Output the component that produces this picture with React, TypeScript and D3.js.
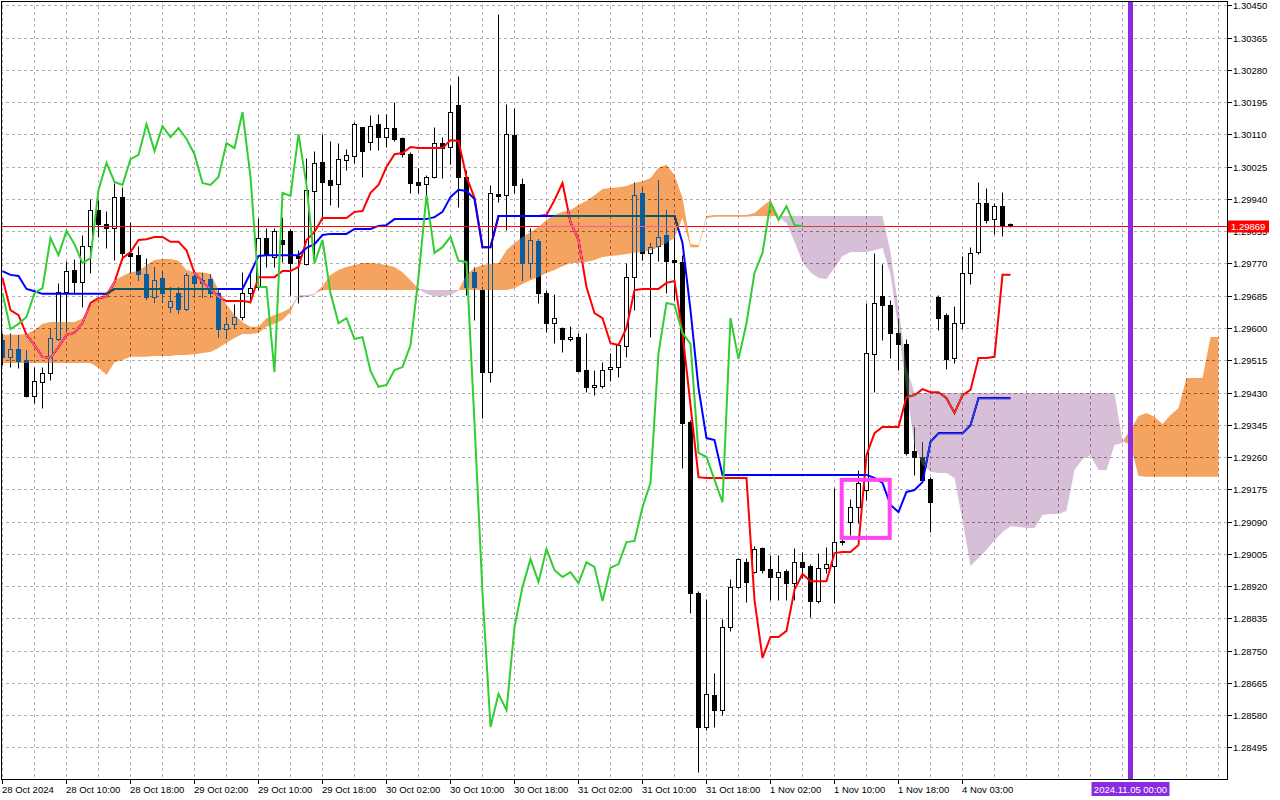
import * as d3 from "d3";

// H1 bars from 28 Oct 2024 02:00, one label every 8 bars
const timeLabels = [
  "28 Oct 2024", "28 Oct 10:00", "28 Oct 18:00", "29 Oct 02:00", "29 Oct 10:00", "29 Oct 18:00",
  "30 Oct 02:00", "30 Oct 10:00", "30 Oct 18:00", "31 Oct 02:00", "31 Oct 10:00", "31 Oct 18:00",
  "1 Nov 02:00", "1 Nov 10:00", "1 Nov 18:00", "4 Nov 03:00",
];

const priceLabels = [
  "1.30450", "1.30365", "1.30280", "1.30195", "1.30110", "1.30025", "1.29940", "1.29855",
  "1.29770", "1.29685", "1.29600", "1.29515", "1.29430", "1.29345", "1.29260", "1.29175",
  "1.29090", "1.29005", "1.28920", "1.28835", "1.28750", "1.28665", "1.28580", "1.28495",
];

const opens = [
  1.29568, 1.29524, 1.29545, 1.29516, 1.29421, 1.29458, 1.29481, 1.29571, 1.29695, 1.29753,
  1.29721, 1.29816, 1.29911, 1.29874, 1.29863, 1.29945, 1.29798, 1.29792, 1.29742, 1.29682,
  1.29732, 1.29655, 1.29692, 1.29650, 1.29737, 1.29718, 1.29729, 1.29692, 1.29597, 1.29611,
  1.29629, 1.29692, 1.29708, 1.29837, 1.29787, 1.29832, 1.29856, 1.29790, 1.29769, 1.29961,
  1.30037, 1.29990, 1.29979, 1.30043, 1.30053, 1.30130, 1.30090, 1.30137, 1.30103, 1.30127,
  1.30101, 1.30058, 1.29985, 1.29979, 1.29998, 1.30087, 1.30077, 1.30188, 1.29998, 1.29748,
  1.29700, 1.29484, 1.29953, 1.29950, 1.30109, 1.29979, 1.29771, 1.29829, 1.29692, 1.29613,
  1.29600, 1.29571, 1.29576, 1.29489, 1.29445, 1.29447, 1.29492, 1.29497, 1.29553, 1.29734,
  1.29956, 1.29798, 1.29816, 1.29845, 1.29779, 1.29774, 1.29352, 1.28902, 1.28549, 1.28633,
  1.28593, 1.28812, 1.28918, 1.28983, 1.28957, 1.29020, 1.28965, 1.28944, 1.28960, 1.28928,
  1.28983, 1.28973, 1.28881, 1.28968, 1.28973, 1.29036, 1.29089, 1.29128, 1.29173, 1.29531,
  1.29684, 1.29661, 1.29587, 1.29558, 1.29276, 1.29260, 1.29202, 1.29682, 1.29634, 1.29521,
  1.29613, 1.29745, 1.29800, 1.29929, 1.29887, 1.29921, 1.29874,
];

const highs = [
  1.29587, 1.29587, 1.29582, 1.29542, 1.29497, 1.29497, 1.29597, 1.29718, 1.29777, 1.29782,
  1.29845, 1.29940, 1.29937, 1.29908, 1.29982, 1.29972, 1.29879, 1.29816, 1.29784, 1.29761,
  1.29747, 1.29708, 1.29708, 1.29745, 1.29753, 1.29745, 1.29742, 1.29700, 1.29629, 1.29663,
  1.29747, 1.29745, 1.29890, 1.29863, 1.29863, 1.29892, 1.29861, 1.29805, 1.30048, 1.30066,
  1.30111, 1.30093, 1.30087, 1.30072, 1.30143, 1.30130, 1.30161, 1.30164, 1.30164, 1.30195,
  1.30103, 1.30064, 1.30022, 1.30003, 1.30130, 1.30103, 1.30240, 1.30264, 1.30016, 1.29761,
  1.29708, 1.29977, 1.30427, 1.30190, 1.30180, 1.29995, 1.29863, 1.29834, 1.29700, 1.29690,
  1.29603, 1.29605, 1.29587, 1.29587, 1.29489, 1.29510, 1.29534, 1.29560, 1.29771, 1.29985,
  1.29969, 1.29824, 1.29990, 1.29911, 1.29863, 1.29792, 1.29358, 1.28907, 1.28886, 1.28691,
  1.28833, 1.28939, 1.28994, 1.28994, 1.29026, 1.29023, 1.29002, 1.29002, 1.28965, 1.29020,
  1.29010, 1.28978, 1.29007, 1.29023, 1.29178, 1.29047, 1.29149, 1.29226, 1.29666, 1.29798,
  1.29769, 1.29674, 1.29624, 1.29571, 1.29339, 1.29300, 1.29207, 1.29687, 1.29640, 1.29658,
  1.29790, 1.29813, 1.29985, 1.29969, 1.29929, 1.29958, 1.29877,
];

const lows = [
  1.29503, 1.29497, 1.29495, 1.29418, 1.29402, 1.29389, 1.29463, 1.29568, 1.29595, 1.29690,
  1.29655, 1.29745, 1.29840, 1.29811, 1.29779, 1.29779, 1.29745, 1.29726, 1.29676, 1.29668,
  1.29668, 1.29642, 1.29639, 1.29647, 1.29682, 1.29682, 1.29682, 1.29576, 1.29574, 1.29600,
  1.29621, 1.29666, 1.29700, 1.29761, 1.29761, 1.29774, 1.29687, 1.29666, 1.29766, 1.29774,
  1.29885, 1.29924, 1.29919, 1.30016, 1.30035, 1.29998, 1.30069, 1.30069, 1.30077, 1.30093,
  1.30050, 1.29956, 1.29956, 1.29940, 1.29995, 1.29995, 1.30032, 1.29919, 1.29687, 1.29621,
  1.29363, 1.29458, 1.29932, 1.29858, 1.29956, 1.29726, 1.29734, 1.29666, 1.29589, 1.29560,
  1.29537, 1.29566, 1.29484, 1.29431, 1.29423, 1.29442, 1.29460, 1.29471, 1.29524, 1.29647,
  1.29779, 1.29576, 1.29777, 1.29692, 1.29674, 1.29231, 1.28849, 1.28430, 1.28541, 1.28549,
  1.28580, 1.28802, 1.28915, 1.28878, 1.28954, 1.28954, 1.28883, 1.28883, 1.28883, 1.28883,
  1.28941, 1.28839, 1.28875, 1.28954, 1.28875, 1.29028, 1.29055, 1.29086, 1.29147, 1.29431,
  1.29568, 1.29521, 1.29489, 1.29265, 1.29213, 1.29194, 1.29062, 1.29595, 1.29492, 1.29508,
  1.29597, 1.29716, 1.29795, 1.29877, 1.29848, 1.29842, 1.29866,
];

const closes = [
  1.29524, 1.29545, 1.29513, 1.29421, 1.29460, 1.29481, 1.29574, 1.29695, 1.29750, 1.29721,
  1.29816, 1.29911, 1.29874, 1.29863, 1.29945, 1.29798, 1.29790, 1.29742, 1.29682, 1.29726,
  1.29692, 1.29671, 1.29650, 1.29740, 1.29718, 1.29726, 1.29692, 1.29597, 1.29611, 1.29629,
  1.29692, 1.29705, 1.29837, 1.29792, 1.29856, 1.29821, 1.29771, 1.29784, 1.29964, 1.30035,
  1.29985, 1.29977, 1.30045, 1.30056, 1.30137, 1.30066, 1.30132, 1.30103, 1.30127, 1.30098,
  1.30058, 1.29982, 1.29977, 1.29998, 1.30087, 1.30074, 1.30169, 1.29998, 1.29708, 1.29708,
  1.29484, 1.29956, 1.29948, 1.30111, 1.29977, 1.29771, 1.29832, 1.29692, 1.29613, 1.29626,
  1.29571, 1.29576, 1.29487, 1.29445, 1.29450, 1.29489, 1.29497, 1.29555, 1.29734, 1.29950,
  1.29798, 1.29813, 1.29840, 1.29777, 1.29774, 1.29350, 1.28902, 1.28549, 1.28636, 1.28593,
  1.28812, 1.28918, 1.28991, 1.28931, 1.29018, 1.28962, 1.28944, 1.28957, 1.28928, 1.28983,
  1.28970, 1.28881, 1.28968, 1.28978, 1.29036, 1.29039, 1.29128, 1.29192, 1.29534, 1.29666,
  1.29661, 1.29587, 1.29558, 1.29271, 1.29260, 1.29200, 1.29141, 1.29626, 1.29518, 1.29613,
  1.29745, 1.29798, 1.29929, 1.29885, 1.29921, 1.29871, 1.29869,
];

const tenkan = [
  1.29732, 1.29647, 1.29634, 1.29582, 1.29555, 1.29524, 1.29521, 1.29550, 1.29582, 1.29587,
  1.29613, 1.29666, 1.29679, 1.29682, 1.29721, 1.29784, 1.29800, 1.29832, 1.29834, 1.29840,
  1.29840, 1.29827, 1.29827, 1.29805, 1.29745, 1.29721, 1.29703, 1.29682, 1.29671, 1.29671,
  1.29671, 1.29668, 1.29734, 1.29734, 1.29734, 1.29750, 1.29750, 1.29761, 1.29832, 1.29853,
  1.29890, 1.29890, 1.29890, 1.29890, 1.29906, 1.29908, 1.29956, 1.29977, 1.30024, 1.30058,
  1.30061, 1.30077, 1.30074, 1.30074, 1.30074, 1.30074, 1.30095, 1.30093, 1.29998, 1.29943,
  1.29813, 1.29813, 1.29895, 1.29895, 1.29895, 1.29895, 1.29895, 1.29895, 1.29898, 1.29937,
  1.29982, 1.29879, 1.29832, 1.29708, 1.29639, 1.29626, 1.29560, 1.29555, 1.29600, 1.29700,
  1.29703, 1.29703, 1.29703, 1.29719, 1.29724, 1.29587, 1.29397, 1.29207, 1.29205, 1.29205,
  1.29205, 1.29205, 1.29205, 1.29205, 1.28883, 1.28731, 1.28786, 1.28786, 1.28802, 1.28910,
  1.28952, 1.28933, 1.28933, 1.28933, 1.29007, 1.29010, 1.29010, 1.29028, 1.29265, 1.29323,
  1.29339, 1.29339, 1.29339, 1.29418, 1.29423, 1.29439, 1.29431, 1.29431, 1.29415, 1.29376,
  1.29423, 1.29437, 1.29521, 1.29521, 1.29524, 1.29740, 1.29740,
];

const kijun = [
  1.29750, 1.29740, 1.29737, 1.29703, 1.29697, 1.29690, 1.29690, 1.29690, 1.29690, 1.29690,
  1.29690, 1.29690, 1.29690, 1.29690, 1.29703, 1.29703, 1.29703, 1.29703, 1.29703, 1.29703,
  1.29703, 1.29703, 1.29703, 1.29703, 1.29703, 1.29703, 1.29703, 1.29703, 1.29703, 1.29703,
  1.29703, 1.29745, 1.29790, 1.29792, 1.29792, 1.29792, 1.29792, 1.29792, 1.29811, 1.29821,
  1.29845, 1.29848, 1.29848, 1.29848, 1.29861, 1.29861, 1.29861, 1.29869, 1.29871, 1.29887,
  1.29887, 1.29887, 1.29887, 1.29887, 1.29892, 1.29906, 1.29945, 1.29964, 1.29961, 1.29940,
  1.29813, 1.29813, 1.29895, 1.29895, 1.29895, 1.29895, 1.29895, 1.29895, 1.29895, 1.29895,
  1.29895, 1.29895, 1.29895, 1.29895, 1.29895, 1.29895, 1.29895, 1.29895, 1.29895, 1.29895,
  1.29895, 1.29895, 1.29895, 1.29895, 1.29895, 1.29824, 1.29647, 1.29442, 1.29310, 1.29305,
  1.29213, 1.29213, 1.29213, 1.29213, 1.29213, 1.29213, 1.29213, 1.29213, 1.29213, 1.29213,
  1.29213, 1.29213, 1.29213, 1.29213, 1.29213, 1.29213, 1.29213, 1.29213, 1.29213, 1.29205,
  1.29192, 1.29134, 1.29115, 1.29168, 1.29173, 1.29194, 1.29300, 1.29323, 1.29323, 1.29323,
  1.29323, 1.29344, 1.29415, 1.29415, 1.29415, 1.29415, 1.29415,
];

// Senkou spans, already shifted 26 bars ahead (153 bars)
const spanA = [
  1.29582, 1.29582, 1.29582, 1.29584, 1.29595, 1.29611, 1.29616, 1.29616, 1.29616, 1.29616,
  1.29626, 1.29661, 1.29679, 1.29695, 1.29726, 1.29737, 1.29747, 1.29750, 1.29766, 1.29779,
  1.29782, 1.29782, 1.29777, 1.29753, 1.29747, 1.29747, 1.29742, 1.29700, 1.29661, 1.29634,
  1.29616, 1.29603, 1.29603, 1.29626, 1.29634, 1.29642, 1.29653, 1.29679, 1.29682, 1.29687,
  1.29711, 1.29740, 1.29753, 1.29761, 1.29766, 1.29771, 1.29771, 1.29769, 1.29766, 1.29761,
  1.29747, 1.29726, 1.29703, 1.29690, 1.29684, 1.29684, 1.29687, 1.29698, 1.29740, 1.29758,
  1.29766, 1.29769, 1.29771, 1.29805, 1.29824, 1.29840, 1.29853, 1.29866, 1.29885, 1.29898,
  1.29906, 1.29911, 1.29924, 1.29935, 1.29950, 1.29966, 1.29969, 1.29971, 1.29974, 1.29982,
  1.29987, 1.29995, 1.30022, 1.30030, 1.30003, 1.29943, 1.29821, 1.29819, 1.29895, 1.29898,
  1.29898, 1.29898, 1.29898, 1.29898, 1.29903, 1.29921, 1.29937, 1.29893, 1.29877, 1.29827,
  1.29774, 1.29747, 1.29732, 1.29729, 1.29758, 1.29790, 1.29800, 1.29800, 1.29800, 1.29805,
  1.29811, 1.29740, 1.29595, 1.29437, 1.29292, 1.29239, 1.29221, 1.29218, 1.29218, 1.29205,
  1.29094, 1.28973, 1.28994, 1.29015, 1.29041, 1.29062, 1.29078, 1.29076, 1.29073, 1.29073,
  1.29107, 1.29110, 1.29110, 1.29118, 1.29226, 1.29255, 1.29265, 1.29226, 1.29226, 1.29292,
  1.29297, 1.29331, 1.29368, 1.29376, 1.29366, 1.29347, 1.29371, 1.29389, 1.29468, 1.29468,
  1.29468, 1.29576, 1.29576,
];

const spanB = [
  1.29508, 1.29508, 1.29508, 1.29508, 1.29508, 1.29508, 1.29508, 1.29508, 1.29508, 1.29508,
  1.29508, 1.29508, 1.29495, 1.29476, 1.29510, 1.29516, 1.29524, 1.29524, 1.29524, 1.29526,
  1.29526, 1.29526, 1.29529, 1.29529, 1.29531, 1.29534, 1.29537, 1.29547, 1.29561, 1.29574,
  1.29584, 1.29584, 1.29587, 1.29603, 1.29611, 1.29621, 1.29642, 1.29687, 1.29687, 1.29690,
  1.29700, 1.29700, 1.29700, 1.29700, 1.29700, 1.29700, 1.29700, 1.29700, 1.29700, 1.29700,
  1.29700, 1.29700, 1.29700, 1.29700, 1.29700, 1.29700, 1.29700, 1.29700, 1.29700, 1.29700,
  1.29700, 1.29700, 1.29700, 1.29700, 1.29705, 1.29716, 1.29726, 1.29734, 1.29745, 1.29753,
  1.29763, 1.29771, 1.29771, 1.29774, 1.29779, 1.29787, 1.29790, 1.29792, 1.29795, 1.29798,
  1.29800, 1.29805, 1.29813, 1.29824, 1.29837, 1.29890, 1.29813, 1.29813, 1.29890, 1.29893,
  1.29893, 1.29893, 1.29893, 1.29893, 1.29895, 1.29895, 1.29895, 1.29895, 1.29895, 1.29895,
  1.29895, 1.29895, 1.29895, 1.29895, 1.29895, 1.29895, 1.29895, 1.29895, 1.29895, 1.29895,
  1.29895, 1.29800, 1.29653, 1.29495, 1.29429, 1.29429, 1.29429, 1.29429, 1.29429, 1.29429,
  1.29429, 1.29429, 1.29429, 1.29429, 1.29429, 1.29429, 1.29429, 1.29429, 1.29429, 1.29429,
  1.29429, 1.29429, 1.29429, 1.29429, 1.29429, 1.29429, 1.29429, 1.29429, 1.29429, 1.29429,
  1.29302, 1.29292, 1.29210, 1.29208, 1.29208, 1.29208, 1.29208, 1.29208, 1.29208, 1.29208,
  1.29208, 1.29208, 1.29208,
];

const lastPrice = 1.29869;
const chikouShift = 26;
const dayLine = { bar: 141, label: "2024.11.05 00:00" };
const markBox = { from: 104.9, to: 110.9, low: 1.29047, high: 1.292 };

const FONT = "'Liberation Sans', Arial, sans-serif";

export default function App() {
  const width = 1280;
  const height = 800;
  const plotR = 1227; // price axis line
  const plotB = 779; // time axis line

  const x = d3.scaleLinear().domain([0, 152]).range([2.5, 1218.5]);
  const y = d3.scaleLinear().domain([1.28495, 1.3045]).range([747.4, 5.4]);
  const py = (v: number) => Math.round(y(v)) + 0.5;

  const line = d3
    .line<number>()
    .x((_, i) => x(i))
    .y((d) => y(d));

  const chikou = d3
    .line<number>()
    .x((_, i) => x(i))
    .y((d) => y(d))(closes.slice(chikouShift));

  // cloud: orange where A is above B, thistle where B is above A.
  // fills are the inverse colours, painted with "difference" so candles show through like MT5
  const top = (i: number) => Math.max(spanA[i], spanB[i]);
  const upCloud = d3
    .area<number>()
    .x((_, i) => x(i))
    .y0((_, i) => y(spanB[i]))
    .y1((_, i) => y(top(i)))(spanA);
  const downCloud = d3
    .area<number>()
    .x((_, i) => x(i))
    .y0((_, i) => y(spanA[i]))
    .y1((_, i) => y(top(i)))(spanA);

  const vGrid = d3.range(0, 153, 4);

  return (
    <svg
      width={width}
      height={height}
      style={{ position: "absolute", left: 0, top: 0, isolation: "isolate" }}
      fontFamily={FONT}
    >
      <defs>
        <clipPath id="plot">
          <rect x={2} y={2} width={plotR - 2} height={plotB - 2} />
        </clipPath>
      </defs>
      <rect width={width} height={height} fill="#fff" />

      <g clipPath="url(#plot)">
        <rect x={0} y={0} width={plotR} height={plotB} fill="#fff" />

        {/* grid */}
        {priceLabels.map((p) => (
          <line key={p} x1={0} x2={plotR} y1={py(+p)} y2={py(+p)} stroke="#a9b4ab" strokeDasharray="3 3" />
        ))}
        {vGrid.map((b) => (
          <line key={b} x1={x(b)} x2={x(b)} y1={0} y2={plotB} stroke="#c4aec4" strokeDasharray="3 3" />
        ))}

        {/* candles */}
        {opens.map((o, i) => {
          const c = closes[i];
          const xc = x(i);
          const y0 = Math.min(py(o), py(c));
          const y1 = Math.max(py(o), py(c));
          const bull = c > o;
          return (
            <g key={i}>
              <line x1={xc} x2={xc} y1={py(highs[i])} y2={py(lows[i])} stroke="#000" />
              {y1 - y0 < 1 ? (
                <line x1={xc - 2.5} x2={xc + 2.5} y1={y0} y2={y0} stroke="#000" />
              ) : (
                <rect x={xc - 2} y={y0} width={4} height={y1 - y0} fill={bull ? "#fff" : "#000"} stroke="#000" />
              )}
            </g>
          );
        })}

        <path d={line(tenkan) ?? ""} fill="none" stroke="#ff0000" strokeWidth={2} />
        <path d={line(kijun) ?? ""} fill="none" stroke="#0000ff" strokeWidth={2} />
        <line x1={0} x2={plotR} y1={py(lastPrice)} y2={py(lastPrice)} stroke="#ff0000" />

        <g style={{ mixBlendMode: "difference" }}>
          <path d={upCloud ?? ""} fill="#0b5b9f" />
          <path d={downCloud ?? ""} fill="#274027" />
        </g>

        <path d={chikou ?? ""} fill="none" stroke="#32cd32" strokeWidth={2} />

        <rect
          x={x(markBox.from)}
          y={y(markBox.high)}
          width={x(markBox.to) - x(markBox.from)}
          height={y(markBox.low) - y(markBox.high)}
          fill="none"
          stroke="#ff44f4"
          strokeWidth={4}
        />
        <line x1={x(dayLine.bar)} x2={x(dayLine.bar)} y1={0} y2={plotB} stroke="#8a2be2" strokeWidth={5} />
      </g>

      {/* frame and axes */}
      <rect x={1.5} y={1.5} width={plotR - 1} height={plotB - 1} fill="none" stroke="#000" />

      {priceLabels.map((p) => (
        <g key={p}>
          <line x1={plotR} x2={plotR + 5} y1={py(+p)} y2={py(+p)} stroke="#000" />
          <text x={plotR + 6} y={py(+p) + 3.5} fontSize={9.5} fill="#000">
            {p}
          </text>
        </g>
      ))}

      {timeLabels.map((t, k) => (
        <g key={t}>
          <line x1={x(k * 8)} x2={x(k * 8)} y1={plotB} y2={plotB + 5} stroke="#000" />
          <text x={x(k * 8) - 0.5} y={793} fontSize={9.5} fill="#000">
            {t}
          </text>
        </g>
      ))}

      {/* last price tag */}
      <rect x={plotR + 1} y={py(lastPrice) - 6} width={41} height={12} fill="#ff0000" />
      <text x={plotR + 4} y={py(lastPrice) + 3.5} fontSize={9.5} fill="#fff">
        {lastPrice.toFixed(5)}
      </text>

      {/* vertical line tag */}
      <rect x={x(dayLine.bar) - 39} y={782} width={78} height={14} fill="#8a2be2" />
      <text x={x(dayLine.bar)} y={793} fontSize={9.5} fill="#fff" textAnchor="middle">
        {dayLine.label}
      </text>
    </svg>
  );
}
